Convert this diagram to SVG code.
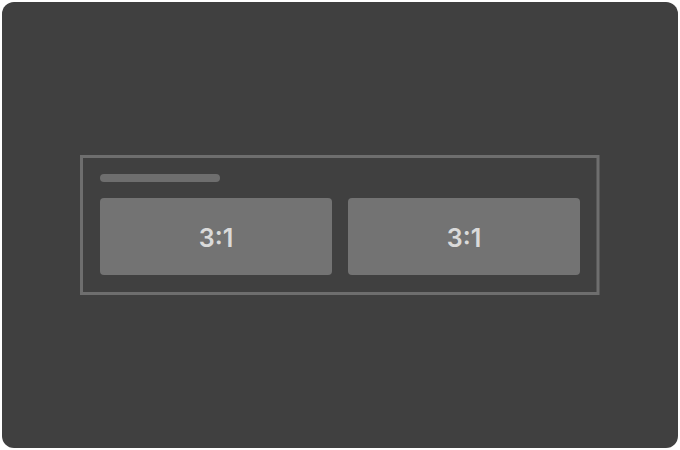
<svg xmlns="http://www.w3.org/2000/svg" width="680" height="450" viewBox="0 0 680 450">
<style>
.cell{fill:#737373}
.lbl{font-family:Inter,"Liberation Sans",sans-serif;font-size:25px;font-weight:600;fill:#dadada;text-anchor:middle}
</style>
<rect x="0" y="0" width="680" height="450" fill="#ffffff"/>
<rect x="2" y="2" width="676" height="446" rx="12" fill="#404040"/>
<g id="frame">
<rect x="81.5" y="156.5" width="516.5" height="137" fill="none" stroke="#6e6e6e" stroke-width="3"/>
<rect x="100" y="174" width="120" height="8" rx="4" fill="#6e6e6e"/>
</g>
<g id="cell-left">
<rect class="cell" x="100" y="198" width="232" height="77" rx="4"/>
<text class="lbl" x="216" y="246.5">3:1</text>
</g>
<g id="cell-right">
<rect class="cell" x="348" y="198" width="232" height="77" rx="4"/>
<text class="lbl" x="464" y="246.5">3:1</text>
</g>
<g id="connectors"/>
</svg>
